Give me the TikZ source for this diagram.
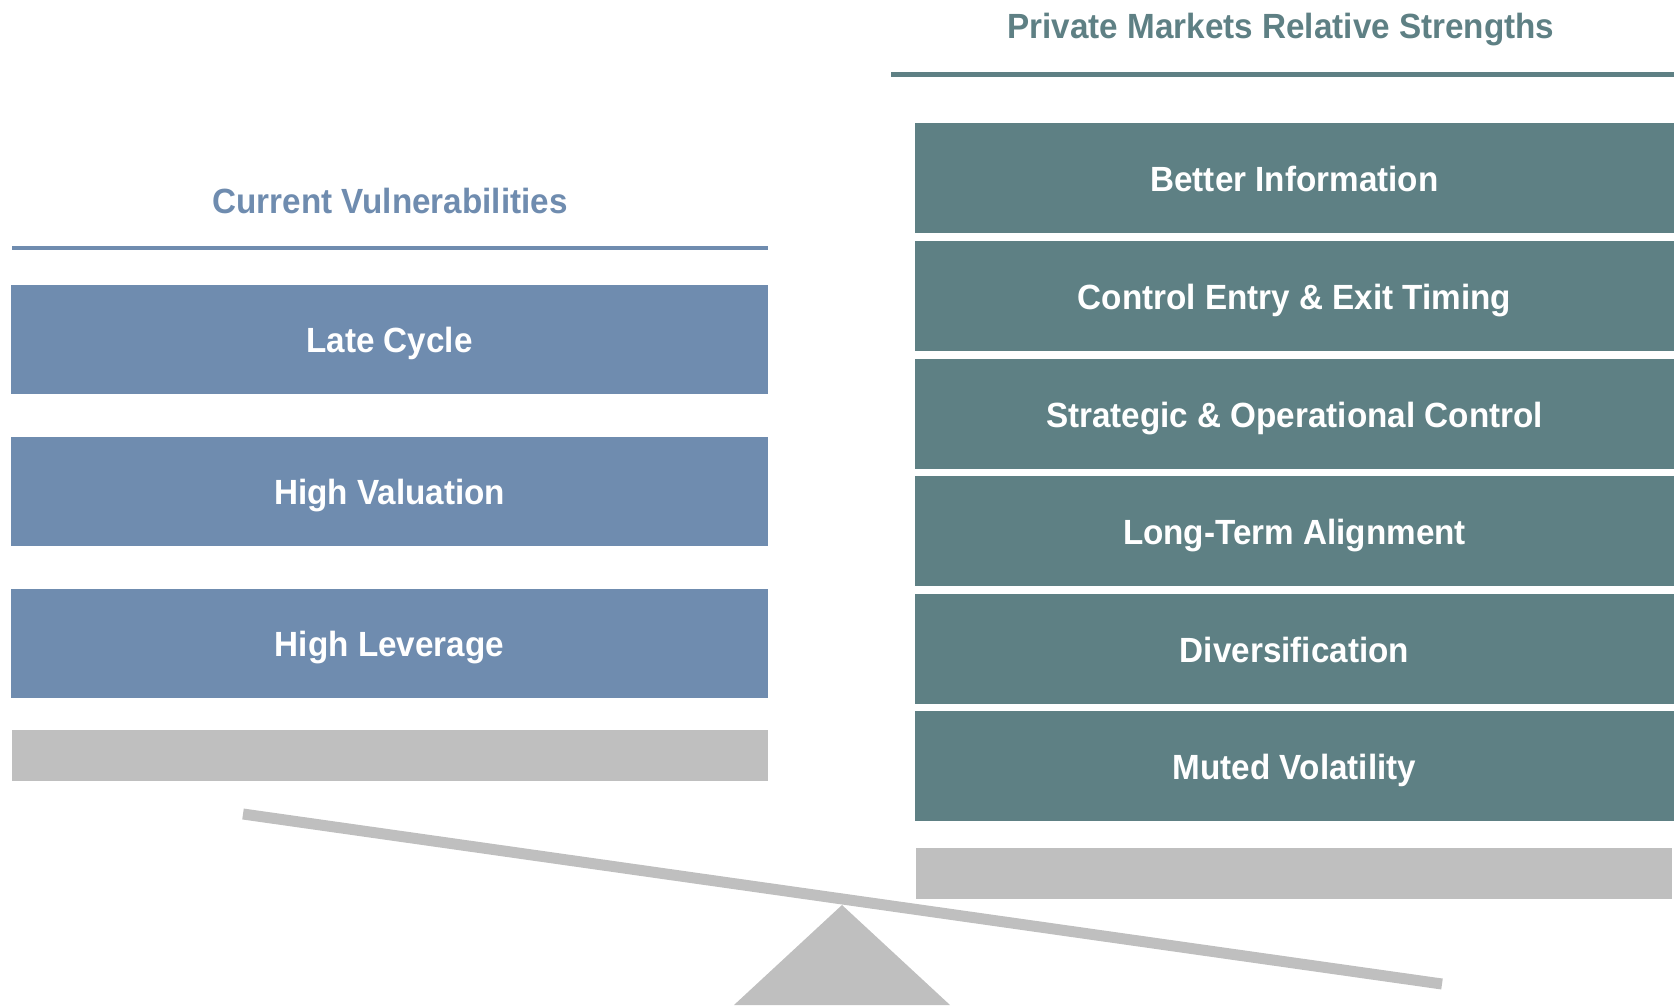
\documentclass[tikz,border=0pt]{standalone}
\usepackage{fontspec}
\setmainfont{Liberation Sans}[FakeStretch=0.95]
\usepackage{tikz}
\usetikzlibrary{positioning,calc}

\definecolor{vulnblue}{RGB}{111,140,175}
\definecolor{strteal}{RGB}{94,128,132}
\definecolor{basegray}{RGB}{191,191,191}

\tikzset{
  vulnbox/.style={fill=vulnblue,text=white,minimum width=757pt,minimum height=109pt,inner sep=0pt,text height=26pt,text depth=0pt,font=\fontsize{35}{40}\selectfont\bfseries},
  strbox/.style={fill=strteal,text=white,minimum width=759pt,minimum height=110pt,inner sep=0pt,text height=26pt,text depth=0pt,font=\fontsize{35}{40}\selectfont\bfseries},
  shelf/.style={fill=basegray,minimum height=51pt,inner sep=0pt},
  heading/.style={font=\fontsize{35}{40}\selectfont\bfseries}
}

\begin{document}
\begin{tikzpicture}[x=1pt,y=-1pt]
          \useasboundingbox (0,0) rectangle (1674,1005);

          % left side
          \node[heading,text=vulnblue] (vulnhead) at (390,201) {Current Vulnerabilities};
          \draw[vulnblue,line width=4.5pt] (12,248) -- (768,248);
          \node[vulnbox] (late) at (389.5,339.5) {Late Cycle};
          \node[vulnbox] (valuation) at (389.5,491.5) {High Valuation};
          \node[vulnbox] (leverage) at (389.5,643.5) {High Leverage};
          \node[shelf,minimum width=756pt] (leftshelf) at (390,755.5) {};

          % right side
          \node[heading,text=strteal] (strhead) at (1281,30) {Private Markets Relative Strengths};
          \draw[strteal,line width=5pt] (891,74) -- (1674,74);
          \node[strbox] (info) at (1294.5,178) {Better Information};
          \node[strbox] (timing) at (1294.5,296) {Control Entry \& Exit Timing};
          \node[strbox] (control) at (1294.5,414) {Strategic \& Operational Control};
          \node[strbox] (align) at (1294.5,531) {Long-Term Alignment};
          \node[strbox] (divers) at (1294.5,649) {Diversification};
          \node[strbox] (muted) at (1294.5,766) {Muted Volatility};
          \node[shelf,minimum width=756pt] (rightshelf) at (1294,873.5) {};

          % scale
          \fill[basegray] (842,905) -- (950,1005) -- (734,1005) -- cycle;
          \draw[basegray,line width=11pt] (243,814) -- (1442,984);
        \end{tikzpicture}
\end{document}
